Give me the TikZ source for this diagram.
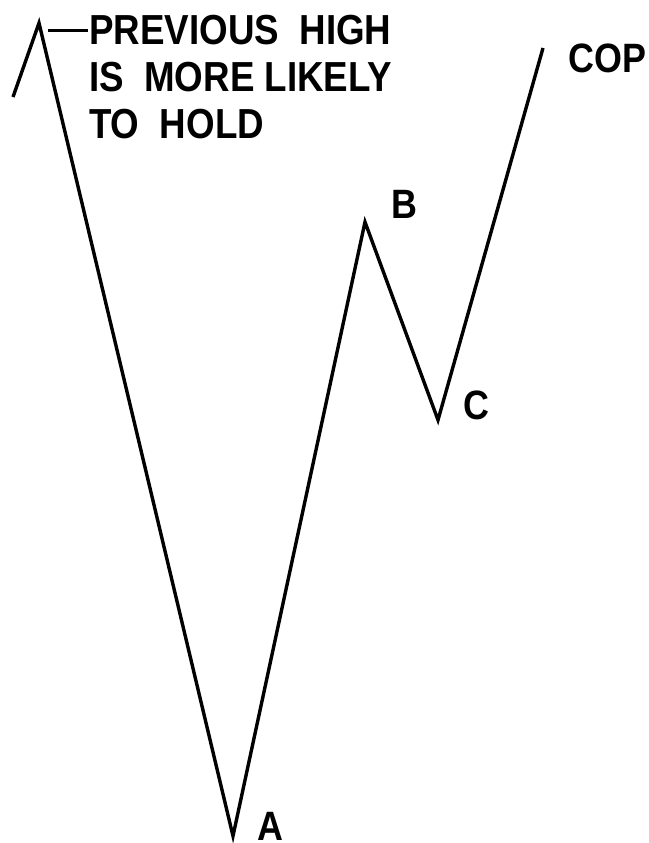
\documentclass[tikz,border=0pt]{standalone}
\usepackage{fontspec}
\newfontfamily\labfont[FakeStretch=0.875]{Liberation Sans}
\begin{document}
\begin{tikzpicture}[x=1pt,y=-1pt,
  wave/.style={line width=3.4pt,line join=miter,line cap=butt},
  bigtext/.style={anchor=base west,inner sep=0pt,font=\labfont\bfseries\fontsize{42}{48}\selectfont},
  ptlabel/.style={anchor=base west,inner sep=0pt,font=\labfont\bfseries\fontsize{41}{41}\selectfont}]
\useasboundingbox (0,0) rectangle (648,843);
\coordinate (start) at (13,97);
\coordinate (top) at (39,23);
\coordinate (a) at (233,836);
\coordinate (b) at (365,222);
\coordinate (c) at (438,420);
\coordinate (end) at (543,48);
\draw[wave] (start) -- (top) -- (a) -- (b) -- (c) -- (end);
\coordinate (tickL) at (48,31);
\coordinate (tickR) at (88,31);
\draw[line width=3pt] (tickL) -- (tickR);
\node[bigtext] (t1) at (89,45) {PREVIOUS\ \ HIGH};
\node[bigtext] (t2) at (89,92) {IS\ \ MORE LIKELY};
\node[bigtext] (t3) at (89,138) {TO\ \ HOLD};
\node[ptlabel] (lb) at (391,218) {B};
\node[ptlabel] (lc) at (463,419) {C};
\node[ptlabel] (la) at (257,840) {A};
\node[ptlabel] (lcop) at (568,72) {COP};
\end{tikzpicture}
\end{document}
